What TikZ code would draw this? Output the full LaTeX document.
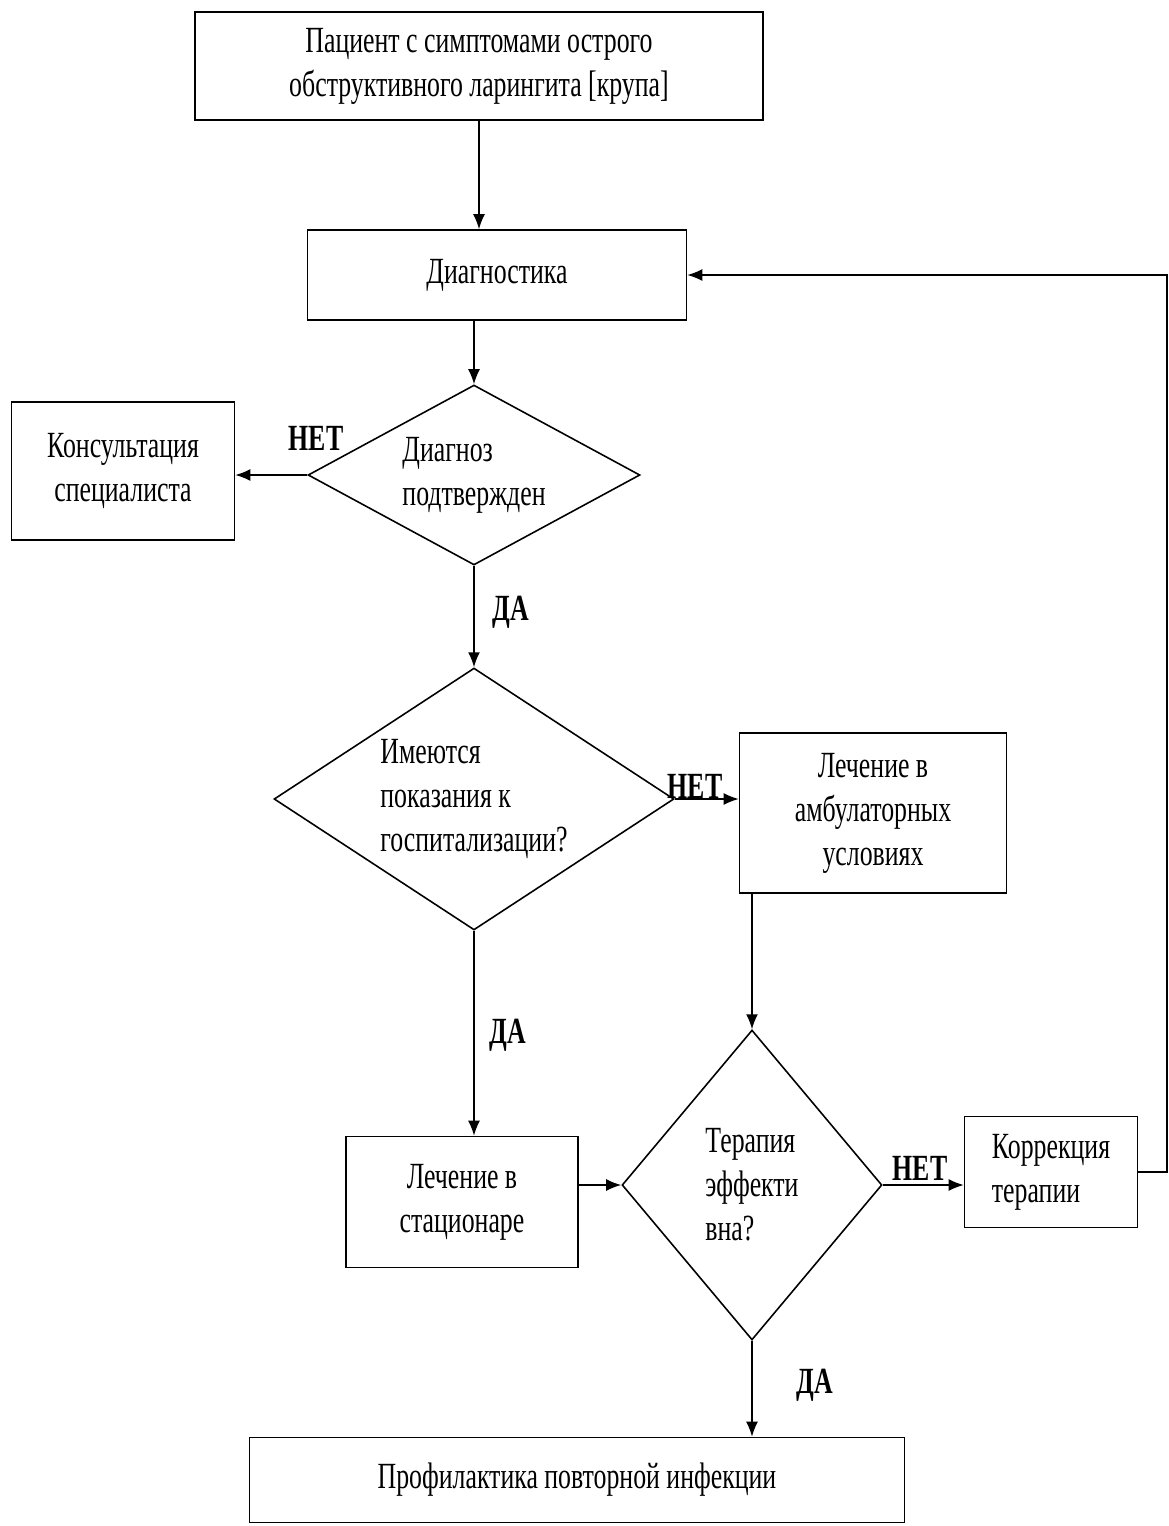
\documentclass[tikz,border=0pt]{standalone}
\usepackage{fontspec}
\setmainfont{Liberation Serif}[FakeStretch=0.7]
\usetikzlibrary{shapes.geometric, arrows.meta}

\begin{document}
\begin{tikzpicture}[
        x=0.02cm, y=-0.02cm,
        s/.style={draw, line width=0.9pt, align=center, inner sep=2pt,
            font=\fontsize{21}{25}\selectfont},
        dec/.style={draw, diamond, line width=0.9pt, align=left, inner sep=0pt,
            font=\fontsize{21}{25}\selectfont},
        rel/.style={-{Latex[length=3mm, width=2.4mm]}, line width=0.9pt},
        lbl/.style={font=\bfseries\fontsize{21}{25}\selectfont}
    ]
        \useasboundingbox (0,0) rectangle (1169,1526);
        \node[s, minimum width=11.36cm, minimum height=2.16cm] (pac) at (479,66) {Пациент с симптомами острого\\обструктивного ларингита [крупа]};
        \node[s, minimum width=7.58cm, minimum height=1.8cm] (diag) at (497,275) {Диагностика};
        \node[dec, shape aspect=1.84, minimum width=6.64cm, minimum height=3.6cm] (d1) at (474,475) {Диагноз\\подтвержден};
        \node[s, minimum width=4.46cm, minimum height=2.76cm] (kons) at (123,471) {Консультация\\специалиста};
        \node[dec, shape aspect=1.53, minimum width=8cm, minimum height=5.24cm] (d2) at (474,799) {Имеются\\показания к\\госпитализации?};
        \node[s, minimum width=5.34cm, minimum height=3.2cm] (amb) at (873,813) {Лечение в\\амбулаторных\\условиях};
        \node[s, minimum width=4.64cm, minimum height=2.62cm] (stac) at (462,1202) {Лечение в\\стационаре};
        \node[dec, shape aspect=0.84, minimum width=5.2cm, minimum height=6.2cm] (d3) at (752,1185) {Терапия\\эффекти\\вна?};
        \node[s, align=left, minimum width=3.46cm, minimum height=2.22cm] (korr) at (1051,1172) {Коррекция\\терапии};
        \node[s, minimum width=13.1cm, minimum height=1.7cm] (prof) at (577,1480) {Профилактика повторной инфекции};
        \coordinate (back) at (1167,275);
        % подписи ветвей
        \node[lbl] (n1) at (316,438) {НЕТ};
        \node[lbl] (y1) at (511,612) {ДА};
        \node[lbl] (n2) at (695,786) {НЕТ};
        \node[lbl] (y2) at (508,1035) {ДА};
        \node[lbl] (n3) at (920,1168) {НЕТ};
        \node[lbl] (y3) at (815,1385) {ДА};
        \draw[rel] (pac.south) -- (pac.south |- diag.north);
        \draw[rel] (diag.south -| d1.north) -- (d1.north);
        \draw[rel] (d1.west) -- (d1.west -| kons.east);
        \draw[rel] (d1.south) -- (d2.north);
        \draw[rel] (d2.east) -- (d2.east -| amb.west);
        \draw[rel] (amb.south -| d3.north) -- (d3.north);
        \draw[rel] (d2.south) -- (d2.south |- stac.north);
        \draw[rel] (stac.east |- d3.west) -- (d3.west);
        \draw[rel] (d3.east) -- (d3.east -| korr.west);
        \draw[rel] (korr.east) -| (back) -- (diag.east);
        \draw[rel] (d3.south) -- (d3.south |- prof.north);
    \end{tikzpicture}
\end{document}
